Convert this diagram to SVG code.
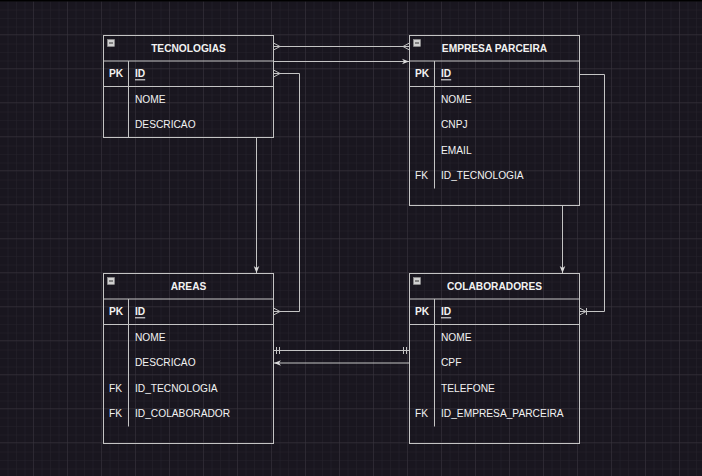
<svg xmlns="http://www.w3.org/2000/svg" width="702" height="476" viewBox="0 0 702 476">
<defs>
<pattern id="minor" x="0" y="1" width="8.5" height="8.5" patternUnits="userSpaceOnUse">
<path d="M8.5 0 V8.5 M0 8.5 H8.5" fill="none" stroke="#26232c" stroke-width="1"/>
</pattern>
<pattern id="major" x="0" y="1" width="34" height="34" patternUnits="userSpaceOnUse">
<rect width="34" height="34" fill="url(#minor)"/>
<path d="M34 0 V34 M0 34 H34" fill="none" stroke="#37343c" stroke-width="1"/>
</pattern>
<marker id="arrow" viewBox="0 0 10 10" refX="10" refY="5" markerWidth="7" markerHeight="7" orient="auto" markerUnits="userSpaceOnUse">
<path d="M0 1 L10 5 L0 9 L3 5 Z" fill="#dcdcdc"/>
</marker>
</defs>
<style>
.tbl{fill:none;stroke:#c4c4c4;stroke-width:1}
.ln{fill:none;stroke:#c4c4c4;stroke-width:1}
.hdr{font-family:"Liberation Sans",Arial,sans-serif;font-size:10.2px;font-weight:bold;fill:#f2f2f2;text-anchor:middle;dominant-baseline:central}
.key{font-family:"Liberation Sans",Arial,sans-serif;font-size:10.2px;font-weight:bold;fill:#f2f2f2;dominant-baseline:central}
.fk{font-family:"Liberation Sans",Arial,sans-serif;font-size:10.2px;fill:#f2f2f2;dominant-baseline:central}
.fld{font-family:"Liberation Sans",Arial,sans-serif;font-size:10.2px;fill:#f2f2f2;dominant-baseline:central}
.pk{text-decoration:underline;font-weight:bold}
.icon{fill:#d0d0d0;stroke:#9a9a9a;stroke-width:0.5}
.mk{fill:none;stroke:#c4c4c4;stroke-width:1}
</style>
<rect width="702" height="476" fill="#19161f"/>
<rect width="702" height="476" fill="url(#major)"/>
<rect width="702" height="1.5" fill="#000"/>

<g id="tecnologias">
<rect class="tbl" x="103.5" y="35.5" width="170" height="102"/>
<path class="ln" d="M103.5 61 H273.5 M103.5 86.5 H273.5 M128.5 61 V137.5"/>
<rect class="icon" x="107.5" y="39.5" width="7" height="7"/>
<path d="M109 43 H113" stroke="#333" stroke-width="1"/>
<text class="hdr" x="188.5" y="48.3">TECNOLOGIAS</text>
<text class="key" x="109" y="73.8">PK</text>
<text class="fld pk" x="135" y="73.8">ID</text>
<text class="fld" x="135" y="99.3">NOME</text>
<text class="fld" x="135" y="124.8">DESCRICAO</text>
</g>

<g id="empresa_parceira">
<rect class="tbl" x="409.5" y="35.5" width="170" height="170"/>
<path class="ln" d="M409.5 61 H579.5 M409.5 86.5 H579.5 M434.5 61 V188.5"/>
<rect class="icon" x="413.5" y="39.5" width="7" height="7"/>
<path d="M415 43 H419" stroke="#333" stroke-width="1"/>
<text class="hdr" x="494.5" y="48.3">EMPRESA PARCEIRA</text>
<text class="key" x="415" y="73.8">PK</text>
<text class="fld pk" x="441" y="73.8">ID</text>
<text class="fld" x="441" y="99.3">NOME</text>
<text class="fld" x="441" y="124.8">CNPJ</text>
<text class="fld" x="441" y="150.3">EMAIL</text>
<text class="fk" x="415" y="175.8">FK</text>
<text class="fld" x="441" y="175.8">ID_TECNOLOGIA</text>
</g>

<g id="areas">
<rect class="tbl" x="103.5" y="273.5" width="170" height="170"/>
<path class="ln" d="M103.5 299 H273.5 M103.5 324.5 H273.5 M128.5 299 V426.5"/>
<rect class="icon" x="107.5" y="277.5" width="7" height="7"/>
<path d="M109 281 H113" stroke="#333" stroke-width="1"/>
<text class="hdr" x="188.5" y="286.3">AREAS</text>
<text class="key" x="109" y="311.8">PK</text>
<text class="fld pk" x="135" y="311.8">ID</text>
<text class="fld" x="135" y="337.3">NOME</text>
<text class="fld" x="135" y="362.8">DESCRICAO</text>
<text class="fk" x="109" y="388.3">FK</text>
<text class="fld" x="135" y="388.3">ID_TECNOLOGIA</text>
<text class="fk" x="109" y="413.8">FK</text>
<text class="fld" x="135" y="413.8">ID_COLABORADOR</text>
</g>

<g id="colaboradores">
<rect class="tbl" x="409.5" y="273.5" width="170" height="170"/>
<path class="ln" d="M409.5 299 H579.5 M409.5 324.5 H579.5 M434.5 299 V426.5"/>
<rect class="icon" x="413.5" y="277.5" width="7" height="7"/>
<path d="M415 281 H419" stroke="#333" stroke-width="1"/>
<text class="hdr" x="494.5" y="286.3">COLABORADORES</text>
<text class="key" x="415" y="311.8">PK</text>
<text class="fld pk" x="441" y="311.8">ID</text>
<text class="fld" x="441" y="337.3">NOME</text>
<text class="fld" x="441" y="362.8">CPF</text>
<text class="fld" x="441" y="388.3">TELEFONE</text>
<text class="fk" x="415" y="413.8">FK</text>
<text class="fld" x="441" y="413.8">ID_EMPRESA_PARCEIRA</text>
</g>

<g id="connectors">
<!-- tecnologias <-> empresa (many-many) -->
<path class="ln" d="M273.5 46.5 H409.5"/>
<path class="mk" d="M273.5 43 L280 46.5 L273.5 50 M273.5 46.5 H280"/>
<path class="mk" d="M409.5 43 L403 46.5 L409.5 50"/>
<!-- tecnologias -> empresa arrow -->
<path class="ln" d="M273.5 61.5 H409" marker-end="url(#arrow)"/>
<!-- tecnologias ID <-> areas ID -->
<path class="ln" d="M273.5 73.5 H299.5 V311.5 H273.5"/>
<path class="mk" d="M273.5 70 L280 73.5 L273.5 77"/>
<path class="mk" d="M273.5 308 L280 311.5 L273.5 315"/>
<!-- tecnologias -> areas -->
<path class="ln" d="M256.5 137.5 V273" marker-end="url(#arrow)"/>
<!-- empresa -> colaboradores -->
<path class="ln" d="M562.5 205.5 V273" marker-end="url(#arrow)"/>
<!-- empresa ID -> colaboradores ID -->
<path class="ln" d="M579.5 74.5 H604.5 V311.5 H579.5"/>
<path class="mk" d="M579.5 308 L586 311.5 L579.5 315 M586.5 308 V315"/>
<!-- areas || colaboradores -->
<path class="ln" d="M273.5 350.5 H409.5"/>
<path class="mk" d="M276.5 347 V354 M279.5 347 V354 M403.5 347 V354 M406.5 347 V354"/>
<!-- colaboradores -> areas -->
<path class="ln" d="M409.5 363 H274" marker-end="url(#arrow)"/>
</g>
</svg>
